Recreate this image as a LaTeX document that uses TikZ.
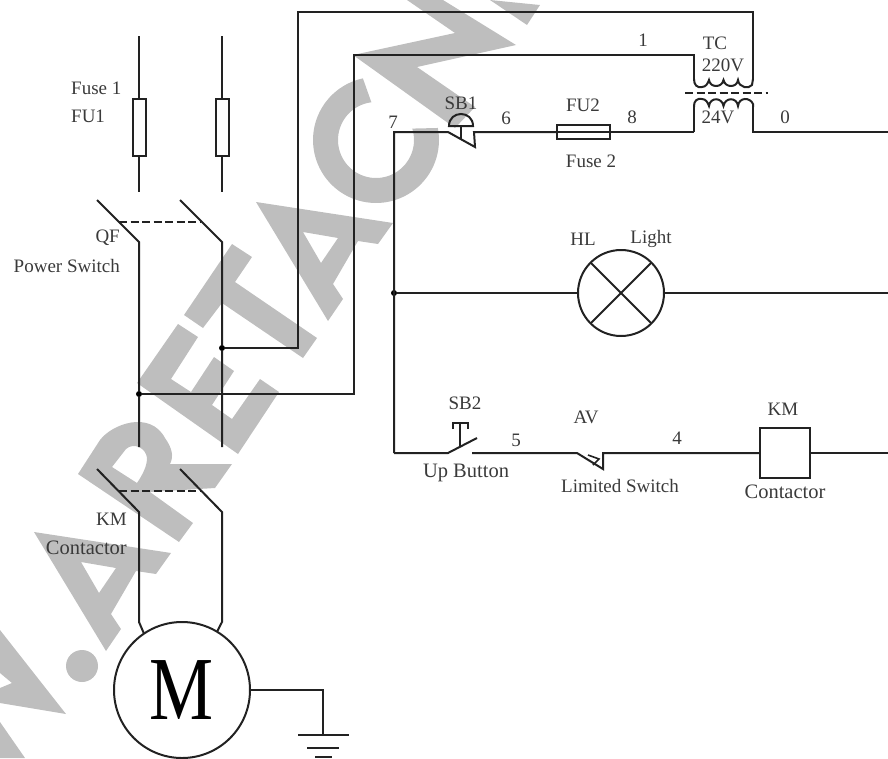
\documentclass[tikz,border=0pt]{standalone}
\usepackage{fontspec}
\usepackage{graphicx}
\setmainfont{Liberation Serif}
\definecolor{wm}{HTML}{BEBEBE}
\definecolor{ink}{HTML}{222222}
\definecolor{txt}{HTML}{3A3A3A}
\tikzset{
  wire/.style={draw=ink,line width=2pt,line join=miter},
  thinwire/.style={draw=ink,line width=1.6pt},
  ganged/.style={draw=ink,line width=1.8pt,dash pattern=on 8pt off 3.5pt},
  box/.style={draw=ink,line width=2pt,inner sep=0pt,outer sep=0pt,fill=none},
  junction/.style={circle,fill=black,inner sep=0pt,minimum size=6pt},
  lbl/.style={font=\fontsize{19}{21}\selectfont,text=txt,inner sep=0pt},
  lblw/.style={font=\fontsize{20.5}{22}\selectfont,text=txt,inner sep=0pt},
  lblr/.style={lbl,anchor=east},
  lbll/.style={lbl,anchor=west}
}
\begin{document}
\begin{tikzpicture}[x=1pt,y=-1pt]
\useasboundingbox (0,0) rectangle (888,758);
% background watermark shapes
\fill[wm] (0,630) -- (66,714) -- (0,703) -- (0,688) -- (12,683) -- (0,673) -- cycle;
\fill[wm] (0,722) -- (25,758) -- (0,758) -- cycle;
\fill[wm] (82,666) circle[radius=16];
\fill[wm,even odd rule] (34,532) -- (171,553) -- (156,574) -- (136,571) -- (111,614) -- (121,629) -- (106,651) -- cycle
  (81,562) -- (116,568) -- (99,593) -- cycle;
\fill[wm,even odd rule] (78,474) -- (100,440) .. controls (112,424) and (150,410) .. (165,438) .. controls (172,448) and (174,456) .. (170,464) -- (232,464) -- (215,488) -- (150,492) -- (193,523) -- (179,542) -- cycle
  (112,467) -- (126,449) .. controls (134,442) and (146,448) .. (147,458) .. controls (147,466) and (143,474) .. (137,483) -- cycle;
\fill[wm] (137,383) -- (178,324) -- (198,337) -- (171,379) -- (191,392) -- (214,357) -- (234,371) -- (212,405) -- (232,419) -- (260,379) -- (279,392) -- (238,454) -- cycle;
\fill[wm] (232,244) -- (252,257) -- (235,282) -- (317,338) -- (303,358) -- (222,303) -- (203,328) -- (184,315) -- cycle;
\fill[wm,even odd rule] (256,202) -- (393,223) -- (378,244) -- (358,241) -- (333,284) -- (343,299) -- (328,321) -- cycle
  (303,232) -- (338,238) -- (321,263) -- cycle;
\fill[wm] plot[domain=-11:258,samples=70] ({376+63*cos(\x)},{140+63*sin(\x)}) -- plot[domain=263:-17.5,samples=70] ({376+38*cos(\x)},{140+38*sin(\x)}) -- cycle;
\fill[wm] (353,55) -- (455,33) -- (407,0) -- (443,0) -- (516,45) -- (417,67) -- (475,107) -- (455,128) -- cycle;
\fill[wm] (490,0) -- (540,5) -- (527,25) -- cycle;

% named points
\coordinate (fa1) at (139,36);  \coordinate (fa2) at (139,192);
\coordinate (fb1) at (222,36);  \coordinate (fb2) at (222,192);
\coordinate (qa0) at (97,200);  \coordinate (qa1) at (139,242); \coordinate (qam) at (119,222);
\coordinate (qb0) at (180,200); \coordinate (qb1) at (222,242); \coordinate (qbm) at (200,222);
\coordinate (busa) at (139,447); \coordinate (busb) at (222,447);
\coordinate (ka0) at (97,469);  \coordinate (ka1) at (139,512); \coordinate (kam) at (119,491);
\coordinate (kb0) at (180,469); \coordinate (kb1) at (222,512); \coordinate (kbm) at (200,491);
\coordinate (ka2) at (139,622); \coordinate (kb2) at (222,622);
\coordinate (ul) at (298,12); \coordinate (ur) at (753,12);
\coordinate (vl) at (354,55); \coordinate (vr) at (694,55);
\coordinate (lb) at (354,394); \coordinate (ub) at (298,348);
\coordinate (p1l) at (694,79); \coordinate (p1r) at (753,79);
\coordinate (s1l) at (694,107); \coordinate (s1r) at (753,107);
\coordinate (sl) at (694,132); \coordinate (sr) at (753,132);
\coordinate (rtop) at (888,132); \coordinate (rmid) at (888,293); \coordinate (rbot) at (888,453);
\coordinate (top7) at (394,132); \coordinate (bot7) at (394,453);
\coordinate (sb1a) at (448,132); \coordinate (sb1b) at (475,147); \coordinate (sb1c) at (474,132);
\coordinate (sb2a) at (448,453); \coordinate (sb2b) at (477,438); \coordinate (sb2c) at (472,453);
\coordinate (ava) at (577,453); \coordinate (avb) at (603,469); \coordinate (avc) at (603,453);
\coordinate (gnd) at (323,690); \coordinate (gndb) at (323,735);
\coordinate (dl) at (685,93); \coordinate (dr) at (768,93);

% components
\node[box,minimum width=13pt,minimum height=57pt] (fuA) at (139,127.5) {};
\node[box,minimum width=13pt,minimum height=57pt] (fuB) at (222,127.5) {};
\node[box,minimum width=53pt,minimum height=14pt] (fu2) at (583.5,132) {};
\node[box,circle,minimum size=86pt] (lamp) at (621,293) {};
\node[box,minimum width=50pt,minimum height=50pt] (kmc) at (785,453) {};
\node[box,circle,minimum size=136pt] (motor) at (182,690) {\scalebox{0.8}[1]{\fontsize{90}{90}\selectfont\color{black}M}};
\node[junction] (ja) at (139,394) {};
\node[junction] (jb) at (222,348) {};
\node[junction] (jc) at (394,293) {};

% fuses and power switch
\draw[wire] (fa1) -- (fuA.north); \draw[wire] (fuA.south) -- (fa2);
\draw[wire] (fb1) -- (fuB.north); \draw[wire] (fuB.south) -- (fb2);
\draw[wire] (qa0) -- (qa1) -- (ja) -- (busa);
\draw[wire] (qb0) -- (qb1) -- (jb) -- (busb);
\draw[ganged] (qam) -- (qbm);
% feeds to transformer
\draw[wire] (jb) -- (ub) -- (ul) -- (ur) -- (p1r);
\draw[wire] (ja) -- (lb) -- (vl) -- (vr) -- (p1l);
% transformer
\draw[wire] (p1l) .. controls (694,85) and (697,88) .. (702,87) .. controls (706,87) and (708,83) .. (709,80)
  .. controls (710,88) and (722,88) .. (723.5,80) .. controls (725,88) and (737,88) .. (738,80)
  .. controls (739,88) and (749,89) .. (752,85) -- (p1r);
\draw[wire] (s1l) -- (694,106) .. controls (694,101) and (697,98) .. (702,99) .. controls (706,99) and (708,103) .. (709,106)
  .. controls (710,97) and (722,97) .. (723.5,106) .. controls (725,97) and (737,97) .. (738,106)
  .. controls (739,97) and (750,97) .. (753,104) -- (s1r);
\draw[ganged] (dl) -- (dr);
\draw[wire] (s1l) -- (sl); \draw[wire] (s1r) -- (sr) -- (rtop);
% top rung
\draw[wire] (bot7) -- (top7) -- (sb1a) -- (sb1b) -- (sb1c) -- (fu2.west);
\draw[wire] (fu2.west) -- (fu2.east);
\draw[wire] (fu2.east) -- (sl);
% SB1 mushroom head
\draw[wire] (461,139) -- (461,126);
\draw[wire] (449,126) -- (473,126) .. controls (473,110) and (449,110) .. (449,126) -- cycle;
% lamp rung
\draw[wire] (jc) -- (lamp.west);
\draw[wire] (lamp.east) -- (rmid);
\draw[wire] (lamp.45) -- (lamp.225);
\draw[wire] (lamp.135) -- (lamp.-45);
% bottom rung
\draw[wire] (bot7) -- (sb2a) -- (sb2b);
\draw[wire] (sb2c) -- (ava) -- (avb) -- (avc) -- (kmc.west);
\draw[wire] (kmc.east) -- (rbot);
\draw[wire] (460,423) -- (460,446);
\draw[wire] (453,429) -- (453,423) -- (468,423) -- (468,429);
\draw[thinwire] (588,455) -- (599,459) -- (593,465);
% KM main contacts
\draw[wire] (ka0) -- (ka1) -- (ka2) -- (motor.124);
\draw[wire] (kb0) -- (kb1) -- (kb2) -- (motor.59);
\draw[ganged,line width=1.5pt] (kam) -- (kbm);
% earth
\draw[wire] (motor.east) -- (gnd) -- (gndb);
\draw[wire] (298,735) -- (349,735);
\draw[wire] (307,748) -- (339,748);
\draw[wire] (315,757) -- (332,757);

% labels
\node[lbll] (t1) at (71,88) {Fuse 1};
\node[lbll] (t2) at (71,116) {FU1};
\node[lblr] (t3) at (120,238) {QF};
\node[lblr] (t4) at (120,266) {Power Switch};
\node[lbl] (t5) at (715,43) {TC};
\node[lbl] (t6) at (723,65) {220V};
\node[lbl] (t7) at (718,117) {24V};
\node[lbl] (t8) at (785,117) {0};
\node[lbl] (t9) at (643,40) {1};
\node[lbl] (t10) at (583,105) {FU2};
\node[lbl] (t11) at (632,117) {8};
\node[lbl] (t12) at (506,118) {6};
\node[lbl] (t13) at (461,103) {SB1};
\node[lbl] (t14) at (393,122) {7};
\node[lbl] (t15) at (591,161) {Fuse 2};
\node[lbl] (t16) at (583,239) {HL};
\node[lbl] (t17) at (651,239) {Light};
\node[lbl] (t18) at (465,403) {SB2};
\node[lblw] (t19) at (466,473) {Up Button};
\node[lbl] (t20) at (516,440) {5};
\node[lbl] (t21) at (586,417) {AV};
\node[lbl] (t22) at (677,438) {4};
\node[lbl] (t23) at (620,486) {Limited Switch};
\node[lbl] (t24) at (783,409) {KM};
\node[lblw] (t25) at (785,492) {Contactor};
\node[lbl,anchor=east] (t26) at (127,519) {KM};
\node[lblw,anchor=east] (t27) at (127,548) {Contactor};
\end{tikzpicture}
\end{document}
